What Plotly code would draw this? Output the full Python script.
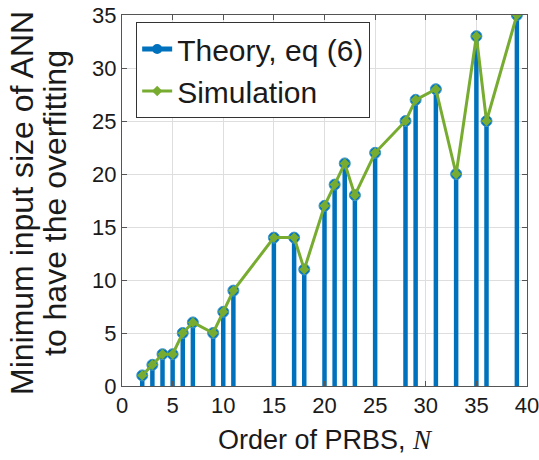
import plotly.graph_objects as go

N = [2, 3, 4, 5, 6, 7, 9, 10, 11, 15, 17, 18, 20, 21, 22, 23, 25, 28, 29, 31, 33, 35, 36, 39]
theory = [1, 2, 3, 3, 5, 6, 5, 7, 9, 14, 14, 11, 17, 19, 21, 18, 22, 25, 27, 28, 20, 33, 25, 35]
simulation = [1, 2, 3, 3, 5, 6, 5, 7, 9, 14, 14, 11, 17, 19, 21, 18, 22, 25, 27, 28, 20, 33, 25, 35]

x_ticks = [0, 5, 10, 15, 20, 25, 30, 35, 40]
y_ticks = [0, 5, 10, 15, 20, 25, 30, 35]
y_title_lines = ["Minimum input size of ANN", "to have the overfitting"]

BLUE = "#0072BD"
GREEN = "#77AC30"
FONT = "Liberation Sans, Arial"

stem_x, stem_y = [], []
for n, v in zip(N, theory):
    stem_x += [n, n, None]
    stem_y += [0, v, None]

fig = go.Figure()
fig.add_trace(go.Scatter(x=stem_x, y=stem_y, mode="lines",
                         line=dict(color=BLUE, width=4.5), showlegend=False,
                         hoverinfo="skip"))
fig.add_trace(go.Scatter(x=N, y=theory, mode="markers",
                         marker=dict(symbol="circle", size=11, color=BLUE,
                                     line=dict(color="#3d97d6", width=1)),
                         showlegend=False))
fig.add_trace(go.Scatter(x=[None], y=[None], mode="lines+markers", name="Theory, eq (6)",
                         line=dict(color=BLUE, width=5),
                         marker=dict(symbol="circle", size=10, color=BLUE)))
fig.add_trace(go.Scatter(x=N, y=simulation, mode="lines+markers", name="Simulation",
                         line=dict(color=GREEN, width=3),
                         marker=dict(symbol="diamond", size=8, color=GREEN)))

axis_common = dict(showgrid=True, gridcolor="#dedede", gridwidth=1,
                   showline=True, linecolor="#555555", linewidth=1, mirror="ticks",
                   ticks="inside", ticklen=5, tickcolor="#555555", automargin=False,
                   ticklabeloverflow="allow",
                   zeroline=False, tickfont=dict(family=FONT, size=22, color="#1a1a1a"))

fig.update_xaxes(range=[0, 40], tickvals=x_ticks, ticktext=[str(t) for t in x_ticks],
                 title=dict(text="Order of PRBS, <i><span style='font-family:Liberation Serif'>N</span></i>",
                            font=dict(family=FONT, size=27, color="#1a1a1a"),
                            standoff=12),
                 **axis_common)
fig.update_yaxes(range=[0, 35], tickvals=y_ticks, ticktext=[str(t) for t in y_ticks],
                 **axis_common)

for i, (line_text, xpx) in enumerate(zip(y_title_lines, [22, 55])):
    fig.add_annotation(text=line_text, textangle=-90, xref="paper", yref="paper",
                       x=(xpx - 122) / 405, y=(386 - 203) / 371, xanchor="center", yanchor="middle",
                       showarrow=False, font=dict(family=FONT, size=32, color="#1a1a1a"))

fig.update_layout(
    width=539, height=460,
    margin=dict(l=122, r=12, t=15, b=74),
    paper_bgcolor="white", plot_bgcolor="white",
    legend=dict(x=0.035, y=0.981, xanchor="left", yanchor="top",
                bgcolor="white", bordercolor="#333333", borderwidth=1,
                font=dict(family=FONT, size=30, color="#1a1a1a"),
                tracegroupgap=0, itemwidth=30),
    showlegend=True,
)

fig.write_html("out.html")
